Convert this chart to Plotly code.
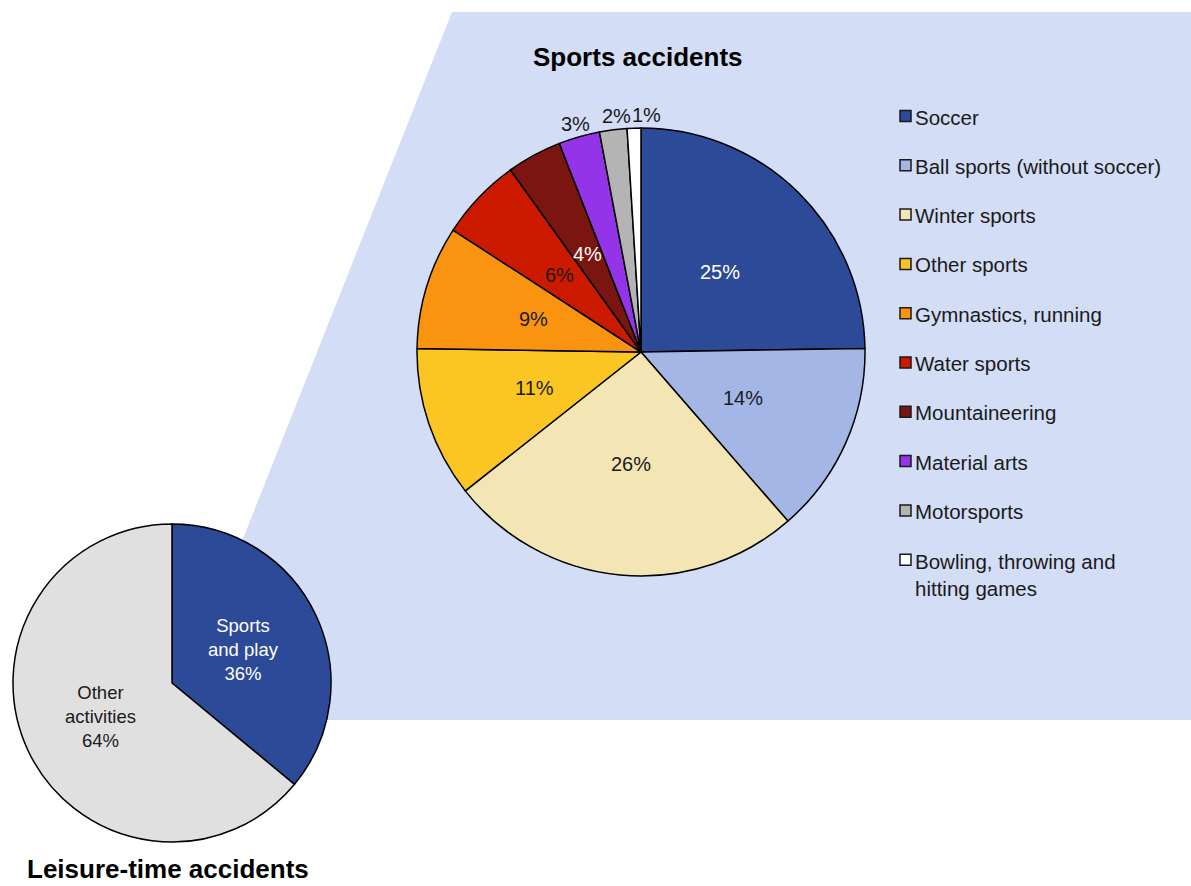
import math
import plotly.graph_objects as go

# Leisure-time accidents split
leisure_labels = ["Sports and play", "Other activities"]
leisure_text = ["Sports<br>and play", "Other<br>activities"]
leisure_values = [36, 64]
leisure_colors = ["#2C4A97", "#E0E0E0"]
leisure_text_colors = ["white", "#1a1a1a"]

# Sports accidents breakdown
sport_labels = [
    "Soccer",
    "Ball sports (without soccer)",
    "Winter sports",
    "Other sports",
    "Gymnastics, running",
    "Water sports",
    "Mountaineering",
    "Material arts",
    "Motorsports",
    "Bowling, throwing and hitting games",
]
sport_values = [25, 14, 26, 11, 9, 6, 4, 3, 2, 1]
sport_colors = [
    "#2C4A97", "#A4B6E6", "#F3E6B4", "#FBC623", "#FA9410",
    "#CC1A00", "#7A150F", "#9334E8", "#B4B4B4", "#FFFFFF",
]
sport_text_colors = ["white", "#1a1a1a", "#1a1a1a", "#1a1a1a", "#1a1a1a",
                     "#1a1a1a", "white", "#1a1a1a", "#1a1a1a", "#1a1a1a"]
sport_outside = [False] * 7 + [True] * 3
legend_text = [
    "Soccer", "Ball sports (without soccer)", "Winter sports", "Other sports",
    "Gymnastics, running", "Water sports", "Mountaineering", "Material arts",
    "Motorsports", "Bowling, throwing and<br>hitting games",
]

W, H = 1191, 886
FONT = "Liberation Sans, Arial, Helvetica, sans-serif"


def px(x):
    return x / W


def py(y):
    return 1 - y / H


# pie geometry (pixels)
BIG_C, BIG_R = (641, 352), 224
SMALL_C, SMALL_R = (172, 683), 159

fig = go.Figure()

fig.add_trace(go.Pie(
    labels=sport_labels, values=sport_values, sort=False, direction="clockwise",
    rotation=0, textinfo="none", hoverinfo="label+value",
    marker=dict(colors=sport_colors, line=dict(color="black", width=1.5)),
    domain=dict(x=[px(BIG_C[0] - BIG_R), px(BIG_C[0] + BIG_R)],
                y=[py(BIG_C[1] + BIG_R), py(BIG_C[1] - BIG_R)]),
    showlegend=False,
))

fig.add_trace(go.Pie(
    labels=leisure_labels, values=leisure_values, sort=False, direction="clockwise",
    rotation=0, textinfo="none", hoverinfo="label+value",
    marker=dict(colors=leisure_colors, line=dict(color="black", width=1.5)),
    domain=dict(x=[px(SMALL_C[0] - SMALL_R), px(SMALL_C[0] + SMALL_R)],
                y=[py(SMALL_C[1] + SMALL_R), py(SMALL_C[1] - SMALL_R)]),
    showlegend=False,
))

annotations = []


def slice_mid_angles(values):
    total = sum(values)
    acc = 0
    out = []
    for v in values:
        out.append((acc + v / 2) / total * 2 * math.pi)
        acc += v
    return out


# value labels for the sports pie
outside_nudge = iter([0, 5, 13])
for v, a, col, outside in zip(sport_values, slice_mid_angles(sport_values),
                              sport_text_colors, sport_outside):
    r = BIG_R * (1.06 if outside else 0.5)
    x = BIG_C[0] + r * math.sin(a)
    y = BIG_C[1] - r * math.cos(a)
    if outside:
        x += next(outside_nudge)
    annotations.append(dict(
        x=px(x), y=py(y), xref="paper", yref="paper", text=f"{v}%",
        showarrow=False, xanchor="center", yanchor="middle",
        font=dict(family=FONT, size=20, color=col),
    ))

# labels for the leisure pie
for t, v, a, col in zip(leisure_text, leisure_values,
                        slice_mid_angles(leisure_values), leisure_text_colors):
    r = SMALL_R * 0.5
    x = SMALL_C[0] + r * math.sin(a)
    y = SMALL_C[1] - r * math.cos(a)
    annotations.append(dict(
        x=px(x), y=py(y), xref="paper", yref="paper", text=f"{t}<br>{v}%",
        showarrow=False, xanchor="center", yanchor="middle", align="center",
        font=dict(family=FONT, size=18.5, color=col),
    ))

# titles
annotations.append(dict(
    x=px(638), y=py(57), xref="paper", yref="paper", text="<b>Sports accidents</b>",
    showarrow=False, xanchor="center", yanchor="middle",
    font=dict(family=FONT, size=26, color="black"),
))
annotations.append(dict(
    x=px(25), y=0, xref="paper", yref="paper", text="<b>Leisure-time accidents</b>",
    showarrow=False, xanchor="left", yanchor="bottom",
    font=dict(family=FONT, size=26, color="black"),
))

shapes = []
# zoom-out backdrop behind the sports pie
shapes.append(dict(
    type="path", xref="paper", yref="paper", layer="below",
    path=(f"M {px(452)},{py(12)} L {px(1191)},{py(12)} L {px(1191)},{py(720)} "
          f"L {px(171)},{py(720)} Z"),
    fillcolor="#D3DDF5", line=dict(width=0),
))

# legend for the sports pie
LEG_X, LEG_Y0, LEG_DY, SQ = 900, 117, 49.3, 11
for i, (t, c) in enumerate(zip(legend_text, sport_colors)):
    yc = LEG_Y0 + i * LEG_DY
    shapes.append(dict(
        type="rect", xref="paper", yref="paper",
        x0=px(LEG_X), x1=px(LEG_X + SQ), y0=py(yc - 1 - SQ / 2), y1=py(yc - 1 + SQ / 2),
        fillcolor=c, line=dict(color="#1a1a1a", width=1.5),
    ))
    multi = "<br>" in t
    annotations.append(dict(
        x=px(LEG_X + SQ + 2), y=py(yc - 13 if multi else yc), xref="paper", yref="paper",
        text=t, showarrow=False, xanchor="left", yanchor="top" if multi else "middle",
        align="left", font=dict(family=FONT, size=20.5, color="#1a1a1a"),
    ))

fig.update_layout(
    width=W, height=H, margin=dict(l=0, r=0, t=0, b=0),
    paper_bgcolor="white", plot_bgcolor="white",
    annotations=annotations, shapes=shapes, showlegend=False,
)

fig.write_html("out.html")
